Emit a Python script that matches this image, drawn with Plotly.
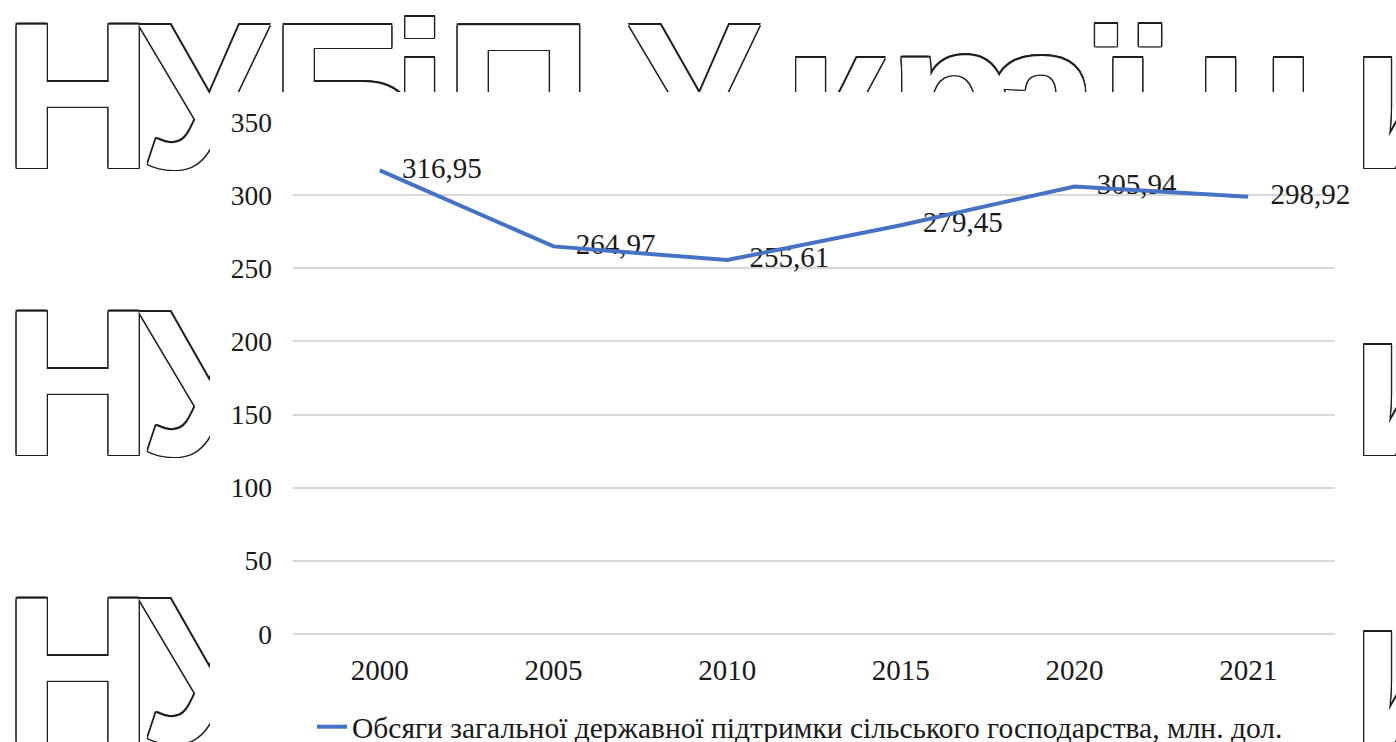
import plotly.graph_objects as go

# ---- data ----
years = ["2000", "2005", "2010", "2015", "2020", "2021"]
support = [316.95, 264.97, 255.61, 279.45, 305.94, 298.92]
y_ticks = [0, 50, 100, 150, 200, 250, 300, 350]
series_name = "Обсяги загальної державної підтримки сільського господарства, млн. дол."

# ---- background watermark "НУБіП України" (decoration, tightly tracked letters) ----
wm_letters = ["Н", "У", "Б", "і", "П", "У", "к", "р", "а", "ї", "н", "и"]
wm_letter_x = [3, 139, 270, 391, 444, 629, 782, 888, 984, 1099, 1192, 1350]
wm_rows_y = [116, 403, 690]

W, H = 1396, 742
SERIF = "Liberation Serif"
WM_SIZE = 207
o = 1.3
OUTLINE_OFFSETS = [(-o, 0), (o, 0), (0, -o), (0, o), (-o, -o), (o, o), (-o, o), (o, -o)]

fig = go.Figure()

wm_font = dict(family="Liberation Sans", size=WM_SIZE, weight="bold")
for row_y in wm_rows_y:
    xs, ys, ts = [], [], []
    for ch, lx in zip(wm_letters, wm_letter_x):
        for dx, dy in OUTLINE_OFFSETS:
            xs.append(lx + dx)
            ys.append(row_y + dy)
            ts.append(ch)
    fig.add_trace(go.Scatter(
        x=xs, y=ys, mode="text", text=ts, textposition="middle right",
        textfont=dict(color="#1e1e1e", **wm_font),
        xaxis="x", yaxis="y", showlegend=False, hoverinfo="skip",
        cliponaxis=False))
    fig.add_trace(go.Scatter(
        x=wm_letter_x, y=[row_y] * len(wm_letters), mode="text",
        text=wm_letters, textposition="middle right",
        textfont=dict(color="#ffffff", **wm_font),
        xaxis="x", yaxis="y", showlegend=False, hoverinfo="skip",
        cliponaxis=False))

# white chart box covering the watermark (subplot x2/y2)
fig.add_trace(go.Scatter(
    x=[210, 1362, 1362, 210, 210], y=[92, 92, 742, 742, 92],
    mode="lines", fill="toself", fillcolor="white",
    line=dict(width=0, color="white"),
    xaxis="x2", yaxis="y2", showlegend=False, hoverinfo="skip"))

# data labels (drawn under the line)
labels = [f"{v:.2f}".replace(".", ",") for v in support]
fig.add_trace(go.Scatter(
    x=years, y=support, mode="markers+text", text=labels,
    textposition="middle right",
    marker=dict(size=34, color="rgba(0,0,0,0)"),
    textfont=dict(family=SERIF, size=29, color="#1a1a1a"),
    xaxis="x3", yaxis="y3", showlegend=False, hoverinfo="skip",
    cliponaxis=False))

# main line
fig.add_trace(go.Scatter(
    x=years, y=support, mode="lines", name=series_name,
    line=dict(color="#4472C4", width=4),
    xaxis="x3", yaxis="y3", hoverinfo="skip"))

fig.update_layout(
    width=W, height=H,
    margin=dict(l=0, r=0, t=0, b=0, autoexpand=False),
    paper_bgcolor="white", plot_bgcolor="rgba(0,0,0,0)",
    xaxis=dict(domain=[0, 1], range=[0, W], visible=False),
    yaxis=dict(domain=[0, 1], range=[H, 0], visible=False),
    xaxis2=dict(domain=[0, 1], range=[0, W], visible=False),
    yaxis2=dict(domain=[0, 1], range=[H, 0], visible=False),
    xaxis3=dict(domain=[293 / W, 1335 / W], anchor="y3", type="category",
                range=[-0.5, len(years) - 0.5],
                showgrid=False, showline=False, zeroline=False, ticks="",
                tickfont=dict(family=SERIF, size=29, color="#1a1a1a"),
                ticklabelstandoff=16),
    yaxis3=dict(domain=[(H - 634) / H, (H - 122) / H], anchor="x3",
                range=[0, 350], tickvals=y_ticks, showgrid=True,
                gridcolor="#d9d9d9", gridwidth=1.5,
                zeroline=True, zerolinecolor="#d9d9d9", zerolinewidth=1.5,
                showline=False, ticks="",
                tickfont=dict(family=SERIF, size=27.5, color="#1a1a1a"),
                ticklabelstandoff=20),
    showlegend=True,
    legend=dict(x=312 / W, y=(H - 727) / H, xanchor="left", yanchor="middle",
                orientation="h",
                font=dict(family=SERIF, size=29.5, color="#1a1a1a"),
                bgcolor="rgba(0,0,0,0)"),
)

fig.write_html("out.html", post_script="document.body.style.margin='0';",
               config={"displayModeBar": False})
